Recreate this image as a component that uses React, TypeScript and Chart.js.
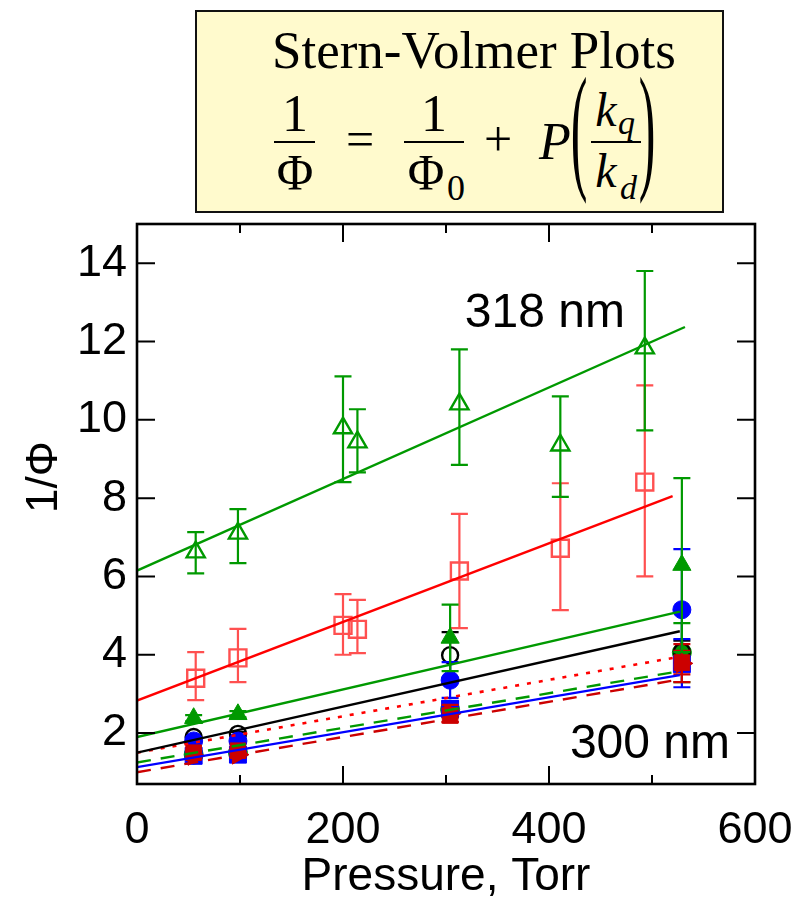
import React, { useEffect, useRef } from 'react';
import { Chart, registerables } from 'chart.js';

Chart.register(...registerables);

// ---------- axis ticks ----------
const xTicksMajor = [0, 200, 400, 600];
const xTicksMinor = [100, 300, 500];
const yTicksMajor = [2, 4, 6, 8, 10, 12, 14];

// ---------- 318 nm: open triangles ----------
const openTriX = [57, 98, 200, 214, 313, 411, 493];
const openTriY = [6.62, 7.1, 9.79, 9.43, 10.4, 9.35, 11.83];
const openTriLo = [6.08, 6.34, 8.41, 8.66, 8.85, 8.03, 9.73];
const openTriHi = [7.13, 7.72, 11.11, 10.27, 11.8, 10.6, 13.8];

// ---------- open squares ----------
const openSqX = [57, 98, 200, 214, 313, 411, 493];
const openSqY = [3.4, 3.92, 4.75, 4.65, 6.14, 6.72, 8.41];
const openSqLo = [2.84, 3.3, 4.0, 4.04, 4.68, 5.14, 6.0];
const openSqHi = [4.07, 4.66, 5.55, 5.4, 7.6, 8.38, 10.88];

// ---------- low-value series (300 nm group) ----------
const lowX = [55, 98, 304, 529];
const fillTriY = [2.38, 2.48, 4.43, 6.29];
const fillTriLo = [2.3, 2.4, 3.58, 4.07];
const fillTriHi = [2.46, 2.56, 5.28, 8.51];

const darkGreenY = [1.45, 1.5, 2.6, 4.06];
const darkGreenLo = [1.4, 1.45, 2.4, 3.3];
const darkGreenHi = [1.5, 1.55, 2.8, 4.81];

const openCircY = [1.9, 1.98, 3.99, 4.08];
const openCircLo = [1.85, 1.93, 3.4, 3.8];
const openCircHi = [1.95, 2.03, 4.58, 4.36];

const blueCircY = [1.8, 1.8, 3.35, 5.15];
const blueCircLo = [1.75, 1.75, 2.9, 3.65];
const blueCircHi = [1.85, 1.85, 3.81, 6.7];

const blueSqY = [1.42, 1.45, 2.62, 3.76];
const blueSqLo = [1.37, 1.4, 2.42, 3.17];
const blueSqHi = [1.47, 1.5, 2.82, 4.4];

const redSqY = [1.5, 1.55, 2.45, 3.8];
const redSqLo = [1.45, 1.5, 2.28, 3.5];
const redSqHi = [1.55, 1.6, 2.62, 4.1];

const redTriY = [1.42, 1.45, 2.5, 3.78];
const redTriLo = [1.37, 1.4, 2.28, 3.3];
const redTriHi = [1.47, 1.5, 2.72, 4.27];

// ---------- fitted lines: [x start, x end] and [y start, y end] ----------
const fitGreenTopX = [0, 532];
const fitGreenTopY = [6.15, 12.37];
const fitRedX = [0, 520];
const fitRedY = [2.83, 8.05];
const fitLowX = [0, 527];
const fitGreenY = [1.9, 5.1];
const fitBlackY = [1.5, 4.6];
const fitRedDotY = [1.5, 3.95];
const fitGreenDashY = [1.25, 3.58];
const fitBlueY = [1.13, 3.48];
const fitRedDashY = [1.0, 3.37];

const GREEN = '#009900';
const RED = '#ff0000';
const LRED = '#ff5050';
const DRED = '#cc0000';
const BLUE = '#0000ff';
const SANS = "'Liberation Sans', Arial, Helvetica, sans-serif";
const SERIF = "'Liberation Serif', 'Times New Roman', Times, serif";

const pts = (xs: number[], ys: number[]) => xs.map((x, i) => ({ x, y: ys[i] }));

function markerSet(label: string, xs: number[], ys: number[], lo: number[], hi: number[], style: any, order: number) {
  return {
    type: 'scatter' as const,
    label,
    data: pts(xs, ys),
    showLine: false,
    errLo: lo,
    errHi: hi,
    order,
    ...style,
  };
}

function lineSet(label: string, xs: number[], ys: number[], color: string, dash: number[], width: number, order: number) {
  return {
    type: 'line' as const,
    label,
    data: pts(xs, ys),
    borderColor: color,
    borderWidth: width,
    borderDash: dash,
    pointRadius: 0,
    fill: false,
    order,
  };
}

const errorBarPlugin = {
  id: 'errorBars',
  beforeDatasetDraw(chart: any, args: any) {
    const ds = chart.data.datasets[args.index];
    if (!ds.errLo) return;
    const ys = chart.scales.y;
    const ctx = chart.ctx;
    ctx.save();
    ctx.strokeStyle = ds.errColor || ds.borderColor;
    ctx.lineWidth = 2.2;
    args.meta.data.forEach((pt: any, i: number) => {
      const x = pt.x;
      const yLo = ys.getPixelForValue(ds.errLo[i]);
      const yHi = ys.getPixelForValue(ds.errHi[i]);
      ctx.beginPath();
      ctx.moveTo(x, yLo);
      ctx.lineTo(x, yHi);
      ctx.moveTo(x - 8.5, yLo);
      ctx.lineTo(x + 8.5, yLo);
      ctx.moveTo(x - 8.5, yHi);
      ctx.lineTo(x + 8.5, yHi);
      ctx.stroke();
    });
    ctx.restore();
  },
};

const framePlugin = {
  id: 'frameTicks',
  afterDraw(chart: any) {
    const { ctx, chartArea: a, scales } = chart;
    const xs = scales.x;
    const ys = scales.y;
    const major = 18;
    const minor = 9;
    ctx.save();
    ctx.strokeStyle = '#000';
    ctx.lineWidth = 2;
    ctx.beginPath();
    xTicksMajor.forEach((v) => {
      const p = xs.getPixelForValue(v);
      ctx.moveTo(p, a.bottom); ctx.lineTo(p, a.bottom - major);
      ctx.moveTo(p, a.top); ctx.lineTo(p, a.top + major);
    });
    xTicksMinor.forEach((v) => {
      const p = xs.getPixelForValue(v);
      ctx.moveTo(p, a.bottom); ctx.lineTo(p, a.bottom - minor);
      ctx.moveTo(p, a.top); ctx.lineTo(p, a.top + minor);
    });
    yTicksMajor.forEach((v) => {
      const p = ys.getPixelForValue(v);
      ctx.moveTo(a.left, p); ctx.lineTo(a.left + major, p);
      ctx.moveTo(a.right, p); ctx.lineTo(a.right - major, p);
    });
    ctx.stroke();
    ctx.lineWidth = 2.6;
    ctx.strokeRect(a.left, a.top, a.right - a.left, a.bottom - a.top);

    // annotations
    ctx.fillStyle = '#000';
    ctx.textAlign = 'center';
    ctx.textBaseline = 'middle';
    ctx.font = `48px ${SANS}`;
    ctx.fillText('318 nm', xs.getPixelForValue(396), ys.getPixelForValue(12.72));
    ctx.fillText('300 nm', xs.getPixelForValue(498), ys.getPixelForValue(1.69));

    // y-axis title
    ctx.save();
    ctx.translate(45, (a.top + a.bottom) / 2 - 27);
    ctx.rotate(-Math.PI / 2);
    ctx.font = `44px ${SANS}`;
    ctx.fillText('1/Φ', 0, 0);
    ctx.restore();
    ctx.restore();
  },
};

function T(props: { x: number; base: number; size: number; italic?: boolean; anchor?: 'start' | 'middle'; children: any; sy?: number; family?: string }) {
  const { x, base, size, italic, anchor = 'middle', children, sy, family = SERIF } = props;
  let transform = anchor === 'middle' ? 'translateX(-50%)' : '';
  if (sy) transform += ` scaleY(${sy})`;
  return (
    <div
      style={{
        position: 'absolute',
        left: x,
        top: base - 0.3375 * size,
        fontSize: size,
        lineHeight: 0,
        fontFamily: family,
        fontStyle: italic ? 'italic' : 'normal',
        whiteSpace: 'nowrap',
        color: '#000',
        transform,
        transformOrigin: sy ? `50% ${0.08 * size}px` : undefined,
      }}
    >
      {children}
    </div>
  );
}

function Bar(props: { x1: number; x2: number; y: number }) {
  return <div style={{ position: 'absolute', left: props.x1, top: props.y - 1, width: props.x2 - props.x1, height: 2, background: '#000' }} />;
}

export default function App() {
  const ref = useRef<HTMLCanvasElement>(null);

  useEffect(() => {
    if (!ref.current) return;
    const datasets: any[] = [
      lineSet('fit 318', fitGreenTopX, fitGreenTopY, GREEN, [], 2.4, 0),
      lineSet('fit red', fitRedX, fitRedY, RED, [], 2.4, 1),
      lineSet('fit green', fitLowX, fitGreenY, GREEN, [], 2.4, 2),
      lineSet('fit black', fitLowX, fitBlackY, '#000', [], 2.4, 3),
      lineSet('fit red dotted', fitLowX, fitRedDotY, RED, [4, 8], 2.6, 4),
      lineSet('fit green dashed', fitLowX, fitGreenDashY, GREEN, [14, 10], 2.4, 5),
      lineSet('fit blue', fitLowX, fitBlueY, BLUE, [], 2.4, 6),
      lineSet('fit red dashed', fitLowX, fitRedDashY, DRED, [14, 10], 2.4, 7),
      markerSet('filled triangles', lowX, fillTriY, fillTriLo, fillTriHi, {
        pointStyle: 'triangle', pointRadius: 10.5, backgroundColor: GREEN, borderColor: GREEN, borderWidth: 1, errColor: GREEN,
      }, 10),
      markerSet('318 nm', openTriX, openTriY, openTriLo, openTriHi, {
        pointStyle: 'triangle', pointRadius: 10.5, backgroundColor: 'rgba(0,0,0,0)', borderColor: GREEN, borderWidth: 2.4, errColor: GREEN,
      }, 11),
      markerSet('open squares', openSqX, openSqY, openSqLo, openSqHi, {
        pointStyle: 'rect', pointRadius: 12, backgroundColor: 'rgba(0,0,0,0)', borderColor: LRED, borderWidth: 2.4, errColor: LRED,
      }, 12),
      markerSet('red triangles', lowX, redTriY, redTriLo, redTriHi, {
        pointStyle: 'triangle', rotation: 90, pointRadius: 11, backgroundColor: DRED, borderColor: DRED, borderWidth: 1, errColor: DRED,
      }, 13),
      markerSet('red squares', lowX, redSqY, redSqLo, redSqHi, {
        pointStyle: 'rect', pointRadius: 11, backgroundColor: DRED, borderColor: DRED, borderWidth: 1, errColor: DRED,
      }, 14),
      markerSet('blue squares', lowX, blueSqY, blueSqLo, blueSqHi, {
        pointStyle: 'rect', pointRadius: 12, backgroundColor: BLUE, borderColor: BLUE, borderWidth: 1, errColor: BLUE,
      }, 15),
      markerSet('blue circles', lowX, blueCircY, blueCircLo, blueCircHi, {
        pointStyle: 'circle', pointRadius: 9, backgroundColor: BLUE, borderColor: BLUE, borderWidth: 1, errColor: BLUE,
      }, 16),
      markerSet('open circles', lowX, openCircY, openCircLo, openCircHi, {
        pointStyle: 'circle', pointRadius: 8, backgroundColor: 'rgba(0,0,0,0)', borderColor: '#000', borderWidth: 2.4, errColor: '#000',
      }, 17),
      markerSet('green markers', lowX, darkGreenY, darkGreenLo, darkGreenHi, {
        pointStyle: 'circle', pointRadius: 9.5, backgroundColor: GREEN, borderColor: GREEN, borderWidth: 1, errColor: GREEN,
      }, 18),
    ];

    const chart = new Chart(ref.current, {
      type: 'scatter',
      data: { datasets },
      plugins: [errorBarPlugin, framePlugin],
      options: {
        animation: false,
        responsive: false,
        maintainAspectRatio: false,
        layout: { padding: { top: 224, right: 41, left: 0, bottom: 0 } },
        plugins: { legend: { display: false }, tooltip: { enabled: false }, title: { display: false } },
        scales: {
          x: {
            type: 'linear',
            min: 0,
            max: 600,
            afterFit: (s: any) => { s.height = 116; s.paddingLeft = 0; s.paddingRight = 0; },
            afterBuildTicks: (s: any) => { s.ticks = xTicksMajor.map((v) => ({ value: v })); },
            grid: { display: false, drawTicks: false },
            border: { display: false },
            ticks: { color: '#000', font: { family: SANS, size: 45 }, padding: 20, maxRotation: 0, autoSkip: false },
            title: { display: true, text: 'Pressure, Torr', color: '#000', font: { family: SANS, size: 46, lineHeight: 1 }, padding: { top: 0, bottom: 0 } },
          },
          y: {
            type: 'linear',
            min: 0.7,
            max: 15,
            afterFit: (s: any) => { s.width = 137; s.paddingTop = 0; s.paddingBottom = 0; },
            afterBuildTicks: (s: any) => { s.ticks = yTicksMajor.map((v) => ({ value: v })); },
            grid: { display: false, drawTicks: false },
            border: { display: false },
            ticks: { color: '#000', font: { family: SANS, size: 45 }, padding: 10, autoSkip: false },
          },
        },
      } as any,
    });
    return () => chart.destroy();
  }, []);

  return (
    <div style={{ position: 'absolute', left: 0, top: 0, width: 796, height: 900, background: '#fff', overflow: 'hidden' }}>
      <canvas ref={ref} width={796} height={900} style={{ position: 'absolute', left: 0, top: 0, width: 796, height: 900 }} />
      <div
        style={{
          position: 'absolute', left: 195, top: 10, width: 529, height: 203, boxSizing: 'border-box',
          border: '2.5px solid #111', background: '#fffacd',
        }}
      />
      <T x={272} base={68} size={53} anchor="start">Stern-Volmer Plots</T>
      <T x={295} base={132} size={52}>1</T>
      <Bar x1={274} x2={315} y={142} />
      <T x={295} base={189} size={50}>Φ</T>
      <T x={360} base={156} size={50}>=</T>
      <T x={434} base={132} size={52}>1</T>
      <Bar x1={404} x2={464} y={142} />
      <T x={426} base={189} size={50}>Φ</T>
      <T x={447} base={200} size={36} anchor="start">0</T>
      <T x={498} base={156} size={50}>+</T>
      <T x={555} base={160} size={52} italic>P</T>
      <T x={579} base={133.5 + 0.3375 * 50} size={50} sy={2.8}>(</T>
      <T x={647} base={133.5 + 0.3375 * 50} size={50} sy={2.8}>)</T>
      <T x={606} base={126} size={48} italic>k</T>
      <T x={618} base={134} size={34} italic anchor="start">q</T>
      <Bar x1={591} x2={641} y={142} />
      <T x={606} base={187} size={48} italic>k</T>
      <T x={620} base={199} size={34} italic anchor="start">d</T>
    </div>
  );
}
